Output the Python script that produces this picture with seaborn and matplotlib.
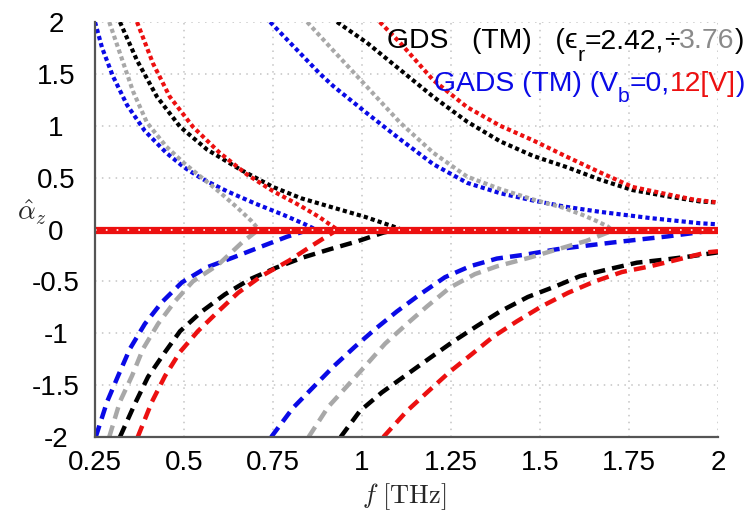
import matplotlib
matplotlib.use("Agg")
import matplotlib.pyplot as plt
import seaborn as sns
import numpy as np

# ---------------- data: normalised attenuation vs frequency ----------------
x_ticks = [0.25, 0.5, 0.75, 1, 1.25, 1.5, 1.75, 2]
x_tick_labels = ["0.25", "0.5", "0.75", "1", "1.25", "1.5", "1.75", "2"]
y_ticks = [-2, -1.5, -1, -0.5, 0, 0.5, 1, 1.5, 2]
y_tick_labels = ["-2", "-1.5", "-1", "-0.5", "0", "0.5", "1", "1.5", "2"]

# first mode, positive branch (dotted)
f_blue_dot1 = [0.25, 0.27, 0.30, 0.34, 0.39, 0.45, 0.50, 0.55, 0.62, 0.70, 0.78, 0.84, 0.87]
a_blue_dot1 = [2.0, 1.75, 1.48, 1.20, 0.95, 0.74, 0.60, 0.49, 0.37, 0.25, 0.14, 0.05, 0.0]
f_gray_dot1 = [0.29, 0.32, 0.357, 0.396, 0.45, 0.50, 0.55, 0.60, 0.65, 0.69, 0.71]
a_gray_dot1 = [2.0, 1.70, 1.33, 1.03, 0.80, 0.64, 0.50, 0.36, 0.21, 0.08, 0.0]
f_black_dot1 = [0.32, 0.368, 0.424, 0.489, 0.565, 0.657, 0.75, 0.83, 0.92, 1.01, 1.087, 1.11]
a_black_dot1 = [2.0, 1.63, 1.28, 0.99, 0.77, 0.58, 0.41, 0.30, 0.21, 0.12, 0.03, 0.0]
f_red_dot1 = [0.368, 0.413, 0.46, 0.525, 0.60, 0.677, 0.75, 0.826, 0.88, 0.93]
a_red_dot1 = [2.0, 1.60, 1.28, 0.99, 0.74, 0.53, 0.37, 0.23, 0.12, 0.0]

# first mode, negative branch (dashed)
f_blue_dash1 = [0.252, 0.284, 0.315, 0.348, 0.39, 0.438, 0.494, 0.564, 0.638, 0.713, 0.789, 0.835, 0.86]
a_blue_dash1 = [-2.0, -1.66, -1.41, -1.15, -0.91, -0.70, -0.51, -0.365, -0.27, -0.17, -0.07, -0.02, 0.0]
f_gray_dash1 = [0.29, 0.32, 0.354, 0.385, 0.427, 0.475, 0.525, 0.596, 0.663, 0.71]
a_gray_dash1 = [-2.0, -1.66, -1.41, -1.15, -0.91, -0.69, -0.50, -0.34, -0.125, 0.0]
f_black_dash1 = [0.32, 0.362, 0.399, 0.447, 0.489, 0.55, 0.615, 0.685, 0.761, 0.834, 0.91, 0.986, 1.06, 1.10]
a_black_dash1 = [-2.0, -1.68, -1.42, -1.18, -0.98, -0.79, -0.625, -0.48, -0.365, -0.27, -0.19, -0.115, -0.03, 0.0]
f_red_dash1 = [0.37, 0.41, 0.447, 0.489, 0.539, 0.596, 0.652, 0.717, 0.795, 0.862, 0.92, 0.935]
a_red_dash1 = [-2.0, -1.66, -1.41, -1.18, -0.98, -0.79, -0.61, -0.45, -0.30, -0.15, -0.025, 0.0]

# second mode, positive branch (dotted)
f_blue_dot2 = [0.742, 0.826, 0.882, 0.92, 1.014, 1.107, 1.2, 1.295, 1.388, 1.48, 1.57, 1.669, 1.81, 1.95, 2.0]
a_blue_dot2 = [2.0, 1.70, 1.50, 1.38, 1.12, 0.87, 0.63, 0.45, 0.35, 0.28, 0.22, 0.17, 0.11, 0.06, 0.05]
f_gray_dot2 = [0.846, 0.918, 1.014, 1.107, 1.2, 1.295, 1.388, 1.48, 1.565, 1.62, 1.66, 1.69, 1.70]
a_gray_dot2 = [2.0, 1.73, 1.375, 1.03, 0.74, 0.51, 0.39, 0.29, 0.21, 0.14, 0.08, 0.03, 0.0]
f_black_dot2 = [0.93, 1.014, 1.107, 1.2, 1.295, 1.388, 1.48, 1.576, 1.669, 1.76, 1.857, 1.95, 2.0]
a_black_dot2 = [2.0, 1.80, 1.54, 1.28, 1.04, 0.85, 0.71, 0.60, 0.48, 0.38, 0.32, 0.27, 0.26]
f_red_dot2 = [1.05, 1.107, 1.2, 1.295, 1.388, 1.48, 1.576, 1.669, 1.76, 1.857, 1.93, 2.0]
a_red_dot2 = [2.0, 1.80, 1.44, 1.18, 1.00, 0.86, 0.70, 0.55, 0.41, 0.34, 0.29, 0.26]

# second mode, negative branch (dashed)
f_blue_dash2 = [0.745, 0.806, 0.863, 0.92, 0.98, 1.037, 1.098, 1.163, 1.233, 1.303, 1.379,
                1.463, 1.548, 1.62, 1.705, 1.78, 1.857, 1.94, 2.0]
a_blue_dash2 = [-2.0, -1.72, -1.52, -1.32, -1.13, -0.96, -0.79, -0.625, -0.46, -0.355, -0.28,
                -0.24, -0.19, -0.16, -0.125, -0.096, -0.067, -0.03, 0.0]
f_gray_dash2 = [0.85, 0.905, 0.958, 1.008, 1.065, 1.126, 1.183, 1.247, 1.317, 1.379, 1.472, 1.55, 1.63, 1.697, 1.71]
a_gray_dash2 = [-2.0, -1.71, -1.51, -1.32, -1.10, -0.91, -0.74, -0.56, -0.43, -0.355, -0.27, -0.19, -0.11, -0.02, 0.0]
f_black_dash2 = [0.94, 0.994, 1.056, 1.121, 1.186, 1.256, 1.323, 1.388, 1.466, 1.542, 1.612, 1.69, 1.772, 1.851, 1.92, 2.0]
a_black_dash2 = [-2.0, -1.75, -1.57, -1.41, -1.25, -1.08, -0.93, -0.79, -0.65, -0.55, -0.45, -0.385, -0.32, -0.29, -0.26, -0.22]
f_red_dash2 = [1.06, 1.126, 1.186, 1.247, 1.309, 1.368, 1.435, 1.505, 1.579, 1.654, 1.73, 1.809, 1.887, 1.969, 2.0]
a_red_dash2 = [-2.0, -1.75, -1.56, -1.37, -1.20, -1.035, -0.885, -0.74, -0.61, -0.50, -0.41, -0.355, -0.29, -0.22, -0.21]

# zero (purely propagating) solution
f_zero = [0.25, 2.0]
a_zero = [0.0, 0.0]

# ---------------- styling ----------------
BLUE = "#0a0ae6"
GRAY = "#a8a8a8"
BLACK = "#000000"
RED = "#ec1010"
AXC = "#555555"

sns.set_theme(style="white")
plt.rcParams["font.family"] = ["Liberation Sans", "DejaVu Sans"]
plt.rcParams["mathtext.fontset"] = "cm"

W, H = 747, 519
fig = plt.figure(figsize=(W / 100, H / 100), dpi=100)
fig.patch.set_facecolor("white")
ax = fig.add_axes([95 / W, 1 - 437 / H, (718 - 95) / W, (437 - 22) / H])
ax.set_facecolor("white")

DOT = (0, (1, 0.75))
DASH = (0, (2.7, 1.6))

curves = [
    (f_blue_dot1, a_blue_dot1, BLUE, DOT), (f_gray_dot1, a_gray_dot1, GRAY, DOT),
    (f_black_dot1, a_black_dot1, BLACK, DOT), (f_red_dot1, a_red_dot1, RED, DOT),
    (f_blue_dash1, a_blue_dash1, BLUE, DASH), (f_gray_dash1, a_gray_dash1, GRAY, DASH),
    (f_black_dash1, a_black_dash1, BLACK, DASH), (f_red_dash1, a_red_dash1, RED, DASH),
    (f_blue_dot2, a_blue_dot2, BLUE, DOT), (f_gray_dot2, a_gray_dot2, GRAY, DOT),
    (f_black_dot2, a_black_dot2, BLACK, DOT), (f_red_dot2, a_red_dot2, RED, DOT),
    (f_blue_dash2, a_blue_dash2, BLUE, DASH), (f_gray_dash2, a_gray_dash2, GRAY, DASH),
    (f_black_dash2, a_black_dash2, BLACK, DASH), (f_red_dash2, a_red_dash2, RED, DASH),
]
for fx, ay, col, ls in curves:
    lw = 3.0 if ls is DOT else 3.2
    sns.lineplot(x=fx, y=ay, ax=ax, color=col, linestyle=ls, linewidth=lw,
                 sort=False, estimator=None, legend=False, zorder=3)

# zero line: thick red with a fine white dotted trace
sns.lineplot(x=f_zero, y=a_zero, ax=ax, color=RED, linewidth=5.2,
             sort=False, estimator=None, legend=False, zorder=4)
sns.lineplot(x=f_zero, y=a_zero, ax=ax, color="white", linewidth=1.2,
             linestyle=(0, (1, 5.5)), sort=False, estimator=None, legend=False, zorder=5)

ax.set_xlim(0.25, 2)
ax.set_ylim(-2, 2)
ax.set_xticks(x_ticks)
ax.set_xticklabels(x_tick_labels)
ax.set_yticks(y_ticks)
ax.set_yticklabels(y_tick_labels)
ax.set_xlabel("")
ax.set_ylabel("")

ax.grid(True, color="#c4c4c4", linestyle=(0, (1, 3.5)), linewidth=1.1, zorder=0)
ax.set_axisbelow(True)
for side in ("top", "right"):
    ax.spines[side].set_visible(False)
for side in ("left", "bottom"):
    ax.spines[side].set_color(AXC)
    ax.spines[side].set_linewidth(1.6)
    ax.spines[side].set_zorder(6)

ax.tick_params(axis="both", direction="in", length=4, width=1, color=AXC,
               labelsize=20, labelcolor="black")
ax.tick_params(axis="x", pad=9)
ax.tick_params(axis="y", pad=28)
for lab in ax.get_yticklabels():
    lab.set_horizontalalignment("center")

# axis labels
fig.text(404 / W, 1 - 497 / H, r"$f\ [\mathrm{THz}]$", fontsize=19,
         ha="center", va="center")
fig.text(17 / W, 1 - 212 / H, r"$\hat{\alpha}_z$", fontsize=20,
         ha="left", va="center")

# two-line coloured annotation
fig.canvas.draw()
renderer = fig.canvas.get_renderer()


def colored_line(x_px, base_px, parts, size=20.4):
    x = x_px
    for text, col, scale, drop in parts:
        t = fig.text(x / W, 1 - (base_px + drop) / H, text, color=col,
                     fontsize=size * scale, ha="left", va="baseline",
                     family=["Liberation Sans", "DejaVu Sans"])
        x += t.get_window_extent(renderer).width


colored_line(387, 48, [
    ("GDS   (TM)   (", BLACK, 1.0, 0),
    ("ϵ", BLACK, 1.0, 0),
    ("r", BLACK, 0.75, 13),
    ("=2.42,", BLACK, 1.0, 0),
    ("÷", BLACK, 1.0, 0),
    ("3.76", "#8a8a8a", 1.0, 0),
    (")", BLACK, 1.0, 0),
])
colored_line(434, 91, [
    ("GADS (TM) (V", BLUE, 1.0, 0),
    ("b", BLUE, 0.75, 11),
    ("=0,", BLUE, 1.0, 0),
    ("12[V]", RED, 1.0, 0),
    (")", BLUE, 1.0, 0),
])

fig.savefig("out.png", dpi=100, facecolor="white")
